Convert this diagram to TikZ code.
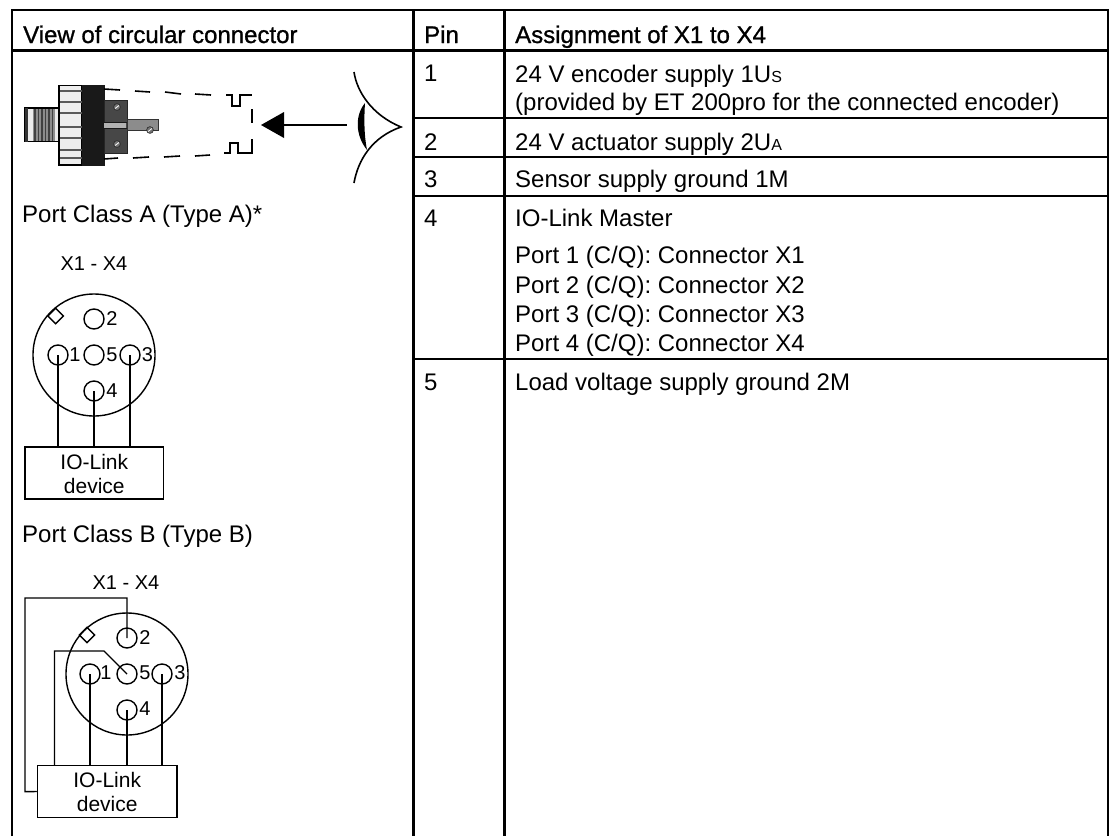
\documentclass[tikz,border=0pt]{standalone}
\usepackage{fontspec}
\setmainfont{Liberation Sans}
\newfontfamily\hdfont[FakeBold=1]{Liberation Sans}
\newcommand{\lowsub}[1]{{\fontsize{16}{16}\selectfont #1}}
\usetikzlibrary{shapes.geometric}
\tikzset{
  every picture/.style={x=1pt,y=-1pt},
  rule/.style={line width=2.2pt,black},
  txt/.style={anchor=base west,inner sep=0pt,font=\fontsize{24}{28}\selectfont},
  hd/.style={anchor=base west,inner sep=0pt,font=\fontsize{24}{28}\selectfont\hdfont},
  small/.style={anchor=base,inner sep=0pt,font=\fontsize{20}{24}\selectfont},
  boxt/.style={anchor=base,inner sep=0pt,font=\fontsize{21}{24}\selectfont},
  wire/.style={line width=1.4pt},
  dashw/.style={line width=1.6pt},
  pinc/.style={circle,draw,line width=1.4pt,minimum size=20pt,inner sep=0pt},
  shell/.style={circle,draw,line width=1.4pt,minimum size=122pt,inner sep=0pt},
  devbox/.style={draw,line width=1.4pt,inner sep=0pt},
  keyd/.style={diamond,draw,line width=1.4pt,minimum size=16pt,inner sep=0pt},
}
\begin{document}
\begin{tikzpicture}
\useasboundingbox (0,0) rectangle (1109,836);
\fill[white] (0,0) rectangle (1109,836);
% table
\draw[rule] (12,836)--(12,10)--(1108,10)--(1108,836);
\draw[rule] (413.5,10)--(413.5,836);
\draw[rule] (504.5,10)--(504.5,836);
\draw[rule] (12,50.5)--(1108,50.5);
\draw[rule] (413.5,118)--(1108,118);
\draw[rule] (413.5,156.7)--(1108,156.7);
\draw[rule] (413.5,196)--(1108,196);
\draw[rule] (413.5,359)--(1108,359);
% headers
\node[hd] (h1) at (23,43) {View of circular connector};
\node[hd] (h2) at (424,43) {Pin};
\node[hd] (h3) at (515,43) {Assignment of X1 to X4};
% pins
\node[txt] (p1) at (424,81) {1};
\node[txt] (p2) at (424,150) {2};
\node[txt] (p3) at (424,187) {3};
\node[txt] (p4) at (424,226) {4};
\node[txt] (p5) at (424,390) {5};
\node[txt] (a1) at (515,82) {24 V encoder supply 1U\lowsub{S}};
\node[txt] (a1b) at (515,110) {(provided by ET 200pro for the connected encoder)};
\node[txt] (a2) at (515,150) {24 V actuator supply 2U\lowsub{A}};
\node[txt] (a3) at (515,187) {Sensor supply ground 1M};
\node[txt] (a4) at (515,226) {IO-Link Master};
\node[txt] (a41) at (515,263) {Port 1 (C/Q): Connector X1};
\node[txt] (a42) at (515,293) {Port 2 (C/Q): Connector X2};
\node[txt] (a43) at (515,322) {Port 3 (C/Q): Connector X3};
\node[txt] (a44) at (515,351) {Port 4 (C/Q): Connector X4};
\node[txt] (a5) at (515,390) {Load voltage supply ground 2M};
\node[txt] (ca) at (22,222) {Port Class A (Type A)*};
\node[txt] (cb) at (22,542) {Port Class B (Type B)};
% connector illustration
\fill[white!92!black,draw=black,line width=1.2pt] (25,108) rectangle (60,141.7);
\fill[black!80] (24.5,108) rectangle (28,141.7);
\fill[black!45] (33,109) rectangle (55,141);
\foreach \x in {35,38.5,...,53} \draw[black!75,line width=1.4pt] (\x,109)--(\x,141);
\draw[fill=white!93!black,draw=black,line width=1.4pt] (59,85.5) rectangle (82,165);
\foreach \y in {91,102,113,127,138,150,158} \draw[black!65,line width=1.6pt] (60,\y)--(82,\y);
\fill[black!90] (82,85) rectangle (104.5,165.5);
\fill[black!72,draw=black!85,line width=0.8pt] (104,100) rectangle (127,153);
\fill[black!30] (104,123) rectangle (126,128);
\draw[black!90,line width=0.8pt] (104,122.5)--(127,122.5) (104,128.5)--(127,128.5);
\fill[black!45,draw=black!80,line width=1pt] (127,119) rectangle (158,130);
\foreach \a/\b in {117/107,117/144,150/130} {\fill[black!55,draw=black!85,line width=0.6pt] (\a,\b) circle (3.4pt); \draw[white,line width=0.8pt] (\a-2,\b+1.5)--(\a+2,\b-1.5);}
\draw[dashw] (104,89)--(120,90) (135,91)--(150,92) (165,92)--(181,94) (195,94)--(211,95);
\draw[dashw] (226,95)--(232,95)--(232,106)--(240,106)--(240,95)--(252,95);
\draw[dashw] (252,109)--(252,123);
\draw[dashw] (252,139)--(252,153)--(238,153)--(238,143)--(230,143)--(230,153)--(224,153);
\draw[dashw] (210,155)--(195,156) (180,156)--(164,157) (149,157)--(133,158) (118,158)--(104,159);
\fill (261,125)--(284,112)--(284,138)--cycle;
\draw[line width=1.4pt] (284,125)--(347,125);
\draw[line width=1.6pt] (354,72) .. controls (357,92) and (372,115) .. (401,127) .. controls (372,137) and (358,160) .. (354,183);
\fill (365,103) .. controls (355,115) and (355,135) .. (367,150) .. controls (364,135) and (364,118) .. (365,103) -- cycle;
% Class A
\node[small] (xa) at (94,270) {X1 - X4};
\node[shell] (sa) at (94,355) {};
\node[keyd] (ka) at (55.6,316) {};
\node[pinc] (a2c) at (94,319) {};
\node[pinc] (a1c) at (58,355) {};
\node[pinc] (a5c) at (94,355) {};
\node[pinc] (a3c) at (130,355) {};
\node[pinc] (a4c) at (94,391) {};
\node[small] at (112,325) {2};
\node[small] at (75,361) {1};
\node[small] at (112,361) {5};
\node[small] at (147.5,361) {3};
\node[small] at (112,397) {4};
\node[devbox,minimum width=138.5pt,minimum height=52pt] (da) at (94.3,473) {};
\node[boxt] at (94.3,469) {IO-Link};
\node[boxt] at (94.3,493) {device};
\draw[wire] (a1c.center)--(a1c.center|-da.north);
\draw[wire] (a4c.center)--(a4c.center|-da.north);
\draw[wire] (a3c.center)--(a3c.center|-da.north);
% Class B
\node[small] (xb) at (126,589) {X1 - X4};
\node[shell] (sb) at (127,674) {};
\node[keyd] (kb) at (87,635) {};
\node[pinc] (b2c) at (127,638) {};
\node[pinc] (b1c) at (90,674) {};
\node[pinc] (b5c) at (127,674) {};
\node[pinc] (b3c) at (162,674) {};
\node[pinc] (b4c) at (127,710) {};
\node[small] at (145,644) {2};
\node[small] at (106,679) {1};
\node[small] at (145,679) {5};
\node[small] at (180,679) {3};
\node[small] at (145,715) {4};
\node[devbox,minimum width=139.5pt,minimum height=51.5pt] (db) at (107.2,791.5) {};
\node[boxt] at (107.2,787) {IO-Link};
\node[boxt] at (107.2,811) {device};
\draw[wire] (b1c.center)--(b1c.center|-db.north);
\draw[wire] (b4c.center)--(b4c.center|-db.north);
\draw[wire] (b3c.center)--(b3c.center|-db.north);
\draw[wire] (b2c.center)--(127,598)--(25,598)--(25,791.7)--(db.west);
\draw[wire] (b5c.center)--(104,651)--(54.5,651)--(54.5,765.7);
\end{tikzpicture}
\end{document}
